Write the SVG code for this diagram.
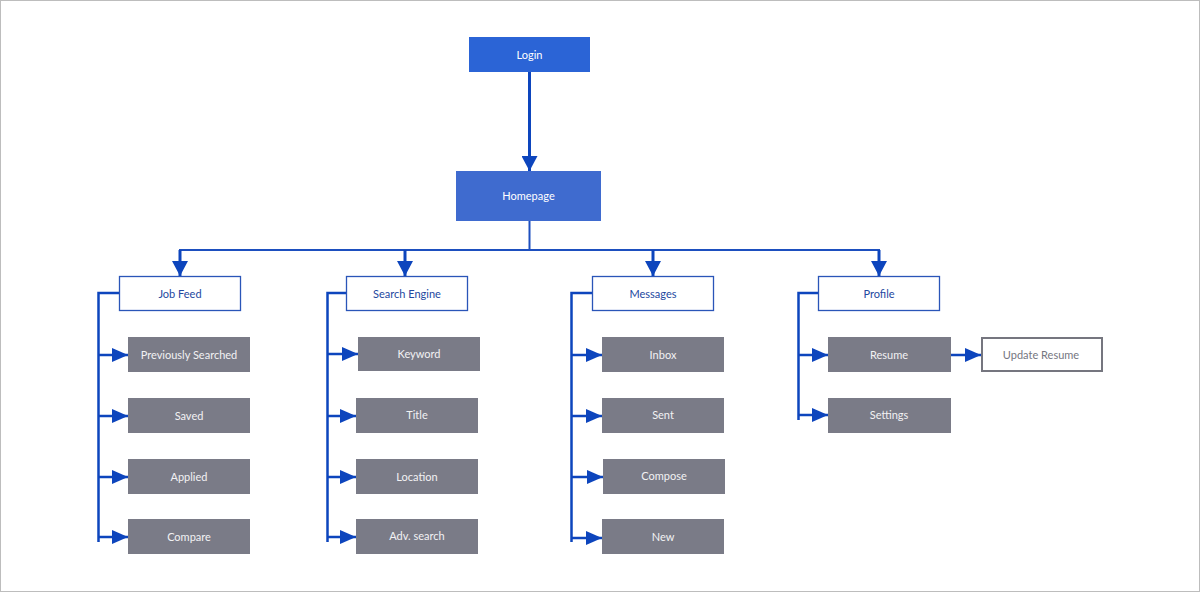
<svg xmlns="http://www.w3.org/2000/svg" width="1200" height="592" viewBox="0 0 1200 592">
<defs>
<style>
text{font-family:Lato,"Noto Sans","DejaVu Sans",sans-serif;font-size:11px;text-anchor:middle;dominant-baseline:central;transform:translate(0,-1px)}
.top{fill:#2b64d6}
.hp{fill:#3f6bcf}
.top-t{fill:#ffffff}
.l2{fill:#ffffff;stroke:#2a55b8;stroke-width:1.3}
.l2-t{fill:#2448a0}
.l3{fill:#7a7b87}
.l3-t{fill:#f2f2f4}
.out{fill:#ffffff;stroke:#75767f;stroke-width:2}
.out-t{fill:#75767f}
.c{fill:none;stroke:#0d45bd;stroke-width:2.5}
.c3{fill:none;stroke:#0d45bd;stroke-width:3}
.c2{fill:none;stroke:#1d4fbf;stroke-width:2}
</style>
<marker id="ah" markerWidth="16" markerHeight="14" refX="16" refY="7" orient="auto" markerUnits="userSpaceOnUse">
<path d="M0,0 L16,7 L0,14 z" fill="#0d45bd"/>
</marker>
<marker id="ahd" markerWidth="15" markerHeight="16" refX="15" refY="8" orient="auto" markerUnits="userSpaceOnUse">
<path d="M0,0 L15,8 L0,16 z" fill="#0d45bd"/>
</marker>
</defs>
<rect x="0.5" y="0.5" width="1199" height="591" fill="#ffffff" stroke="#bdbdbd"/>

<g id="connectors">
<line class="c3" x1="529.5" y1="72" x2="529.5" y2="171" marker-end="url(#ahd)"/>
<line class="c2" x1="529.5" y1="221" x2="529.5" y2="250"/>
<line class="c2" x1="179" y1="250" x2="880" y2="250"/>
<line class="c3" x1="180" y1="250" x2="180" y2="276" marker-end="url(#ahd)"/>
<line class="c3" x1="405" y1="250" x2="405" y2="276" marker-end="url(#ahd)"/>
<line class="c3" x1="653" y1="250" x2="653" y2="276" marker-end="url(#ahd)"/>
<line class="c3" x1="879" y1="250" x2="879" y2="276" marker-end="url(#ahd)"/>

<path class="c" d="M119,293 H98.5 V542"/>
<line class="c" x1="98" y1="355" x2="128" y2="355" marker-end="url(#ah)"/>
<line class="c" x1="98" y1="416" x2="128" y2="416" marker-end="url(#ah)"/>
<line class="c" x1="98" y1="477" x2="128" y2="477" marker-end="url(#ah)"/>
<line class="c" x1="98" y1="537" x2="128" y2="537" marker-end="url(#ah)"/>

<path class="c" d="M346,293 H327.5 V542"/>
<line class="c" x1="327" y1="354" x2="358" y2="354" marker-end="url(#ah)"/>
<line class="c" x1="327" y1="416" x2="356" y2="416" marker-end="url(#ah)"/>
<line class="c" x1="327" y1="477" x2="356" y2="477" marker-end="url(#ah)"/>
<line class="c" x1="327" y1="537" x2="356" y2="537" marker-end="url(#ah)"/>

<path class="c" d="M592,293 H571.5 V542"/>
<line class="c" x1="571" y1="355" x2="602" y2="355" marker-end="url(#ah)"/>
<line class="c" x1="571" y1="416" x2="602" y2="416" marker-end="url(#ah)"/>
<line class="c" x1="571" y1="477" x2="603" y2="477" marker-end="url(#ah)"/>
<line class="c" x1="571" y1="538" x2="602" y2="538" marker-end="url(#ah)"/>

<path class="c" d="M818,293 H798.5 V420"/>
<line class="c" x1="798" y1="355" x2="828" y2="355" marker-end="url(#ah)"/>
<line class="c" x1="798" y1="415" x2="828" y2="415" marker-end="url(#ah)"/>
<line class="c" x1="951" y1="355" x2="981" y2="355" marker-end="url(#ah)"/>
</g>

<g id="login"><rect class="top" x="469" y="37" width="121" height="35"/><text class="top-t" x="529.5" y="55">Login</text></g>
<g id="homepage"><rect class="hp" x="456" y="171" width="145" height="50"/><text class="top-t" x="528.5" y="196">Homepage</text></g>

<g id="job-feed"><rect class="l2" x="119.5" y="276.5" width="121" height="34"/><text class="l2-t" x="180" y="294">Job Feed</text></g>
<g id="search-engine"><rect class="l2" x="346.5" y="276.5" width="121" height="34"/><text class="l2-t" x="407" y="294">Search Engine</text></g>
<g id="messages"><rect class="l2" x="592.5" y="276.5" width="121" height="34"/><text class="l2-t" x="653" y="294">Messages</text></g>
<g id="profile"><rect class="l2" x="818.5" y="276.5" width="121" height="34"/><text class="l2-t" x="879" y="294">Profile</text></g>

<g id="previously-searched"><rect class="l3" x="128" y="337" width="122" height="35"/><text class="l3-t" x="189" y="355">Previously Searched</text></g>
<g id="saved"><rect class="l3" x="128" y="398" width="122" height="35"/><text class="l3-t" x="189" y="416">Saved</text></g>
<g id="applied"><rect class="l3" x="128" y="459" width="122" height="35"/><text class="l3-t" x="189" y="477">Applied</text></g>
<g id="compare"><rect class="l3" x="128" y="519" width="122" height="35"/><text class="l3-t" x="189" y="537">Compare</text></g>

<g id="keyword"><rect class="l3" x="358" y="337" width="122" height="34"/><text class="l3-t" x="419" y="354">Keyword</text></g>
<g id="title"><rect class="l3" x="356" y="398" width="122" height="35"/><text class="l3-t" x="417" y="415">Title</text></g>
<g id="location"><rect class="l3" x="356" y="459" width="122" height="35"/><text class="l3-t" x="417" y="477">Location</text></g>
<g id="adv-search"><rect class="l3" x="356" y="519" width="122" height="35"/><text class="l3-t" x="417" y="536">Adv. search</text></g>

<g id="inbox"><rect class="l3" x="602" y="337" width="122" height="35"/><text class="l3-t" x="663" y="355">Inbox</text></g>
<g id="sent"><rect class="l3" x="602" y="398" width="122" height="35"/><text class="l3-t" x="663" y="415">Sent</text></g>
<g id="compose"><rect class="l3" x="603" y="459" width="122" height="35"/><text class="l3-t" x="664" y="476">Compose</text></g>
<g id="new"><rect class="l3" x="602" y="519" width="122" height="35"/><text class="l3-t" x="663" y="537">New</text></g>

<g id="resume"><rect class="l3" x="828" y="337" width="123" height="35"/><text class="l3-t" x="889" y="355">Resume</text></g>
<g id="settings"><rect class="l3" x="828" y="398" width="123" height="35"/><text class="l3-t" x="889" y="415">Settings</text></g>
<g id="update-resume"><rect class="out" x="982" y="338" width="120" height="33"/><text class="out-t" x="1041" y="355">Update Resume</text></g>
</svg>
